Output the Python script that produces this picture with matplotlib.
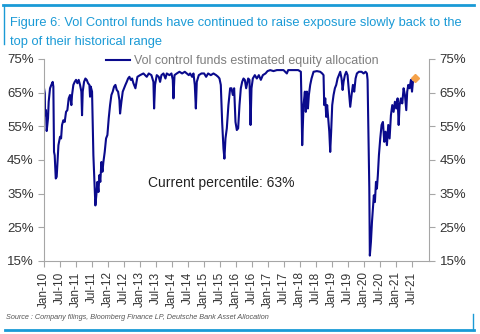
import matplotlib
matplotlib.use("Agg")
import matplotlib.pyplot as plt
from matplotlib.lines import Line2D
import numpy as np
import pandas as pd

plt.rcParams['font.family'] = ['Liberation Sans', 'DejaVu Sans']

# months after Jan-2010 and estimated equity allocation (%)
months = [0, 0.3, 0.4, 0.75, 1.0, 1.5, 1.75, 2.25, 2.75, 3.25, 3.5, 3.75, 4.0, 4.4, 4.75,
          5.1, 5.4, 6, 6.4, 6.75, 7.25, 7.75, 8.25, 8.75, 9.25, 9.75, 10.25, 10.5, 11, 11.5,
          12, 12.5, 13, 13.5, 14, 14.25, 14.5, 15, 15.5, 16, 16.5, 17, 17.25, 17.5, 18,
          18.25, 18.5, 18.9, 19.25, 19.6, 20, 20.4, 20.75, 21.1, 21.5, 21.9, 22.25, 22.75,
          23.25, 23.75, 24.25, 24.75, 25.25, 25.75, 26.25, 26.75, 27.25, 27.75, 28.25, 28.5,
          29, 29.5, 30, 30.5, 31, 31.5, 32, 32.5, 33, 33.5, 34.25, 35, 36, 37.25, 38.5,
          39.25, 40.25, 41, 41.25, 41.6, 42.25, 43, 43.5, 44, 44.75, 45.5, 46, 47, 47.75,
          48.25, 48.5, 48.9, 49.75, 50.75, 51.75, 52.75, 53.5, 54.25, 54.75, 55.5, 56, 56.5,
          56.9, 57.25, 58, 59, 60, 60.75, 61.5, 62.5, 63.5, 64.5, 65.25, 65.75, 66.25,
          66.75, 67.25, 67.6, 68, 68.5, 69.1, 69.75, 70.25, 70.75, 71.25, 71.75, 72.25,
          72.75, 73.25, 73.75, 74.25, 74.75, 75.25, 75.75, 76.5, 77, 77.4, 77.75, 78.25,
          79, 79.75, 80.5, 81.25, 82, 83, 83.75, 84.75, 86, 87.25, 88.5, 89.75, 91, 91.5,
          92.75, 94, 95.25, 96.25, 96.5, 96.75, 97.25, 97.75, 98.1, 98.5, 98.9, 99.25,
          99.75, 100.25, 101, 102.25, 103.5, 104.25, 104.75, 105, 105.4, 105.75, 106.1,
          106.5, 106.9, 107.25, 107.6, 108, 108.5, 109, 109.5, 110, 110.5, 111, 111.5,
          111.9, 112.25, 112.75, 113.25, 113.75, 114.25, 114.75, 115.25, 115.75, 116.25,
          116.75, 117.25, 118, 119, 119.75, 120.5, 121, 121.25, 121.6, 121.9, 122.1, 122.5,
          122.9, 123.25, 123.6, 124, 124.4, 124.75, 125.1, 125.5, 126, 126.5, 127, 127.5,
          128, 128.5, 129, 129.5, 130, 130.5, 131, 131.5, 132, 132.5, 132.9, 133.25,
          133.75, 134.25, 134.75, 135.25, 135.75, 136.1, 136.5, 137, 137.5, 137.9, 138.25,
          138.75]
allocation = [66.3, 64.8, 58.3, 59.8, 53.6, 57.4, 62.3, 66.3, 67.3, 68.2, 66.8, 47.4, 46.4,
              39.5, 40.0, 45.4, 49.4, 51.9, 51.4, 55.4, 56.8, 56.3, 59.3, 59.8, 63.3, 64.3,
              61.3, 64.3, 67.3, 68.2, 68.8, 67.8, 68.8, 67.3, 65.3, 58.3, 65.3, 68.2, 69.2,
              68.8, 67.8, 67.3, 63.8, 66.8, 65.3, 56.3, 46.4, 38.5, 31.5, 34.5, 38.5, 35.5,
              40.5, 38.5, 44.4, 41.5, 44.4, 47.4, 51.4, 52.4, 57.4, 61.3, 64.3, 65.3, 66.8,
              67.3, 65.8, 65.3, 62.8, 58.8, 62.3, 65.3, 66.3, 67.3, 68.2, 69.2, 69.7, 68.8,
              69.2, 67.8, 66.3, 69.7, 70.2, 70.7, 69.7, 70.7, 70.2, 68.2, 60.3, 67.3, 70.2,
              69.7, 68.2, 70.2, 70.7, 69.2, 70.7, 70.2, 70.7, 68.8, 63.3, 70.2, 70.7, 71.2,
              70.7, 71.2, 70.7, 70.2, 70.7, 69.7, 70.7, 67.3, 60.3, 68.2, 70.2, 70.7, 70.7,
              69.7, 70.7, 70.2, 70.7, 70.2, 69.7, 69.2, 67.3, 56.3, 48.4, 45.4, 51.4, 54.4,
              61.3, 66.3, 66.3, 64.3, 66.3, 56.3, 53.9, 54.4, 61.3, 66.3, 68.2, 69.2, 68.8,
              66.3, 69.2, 68.8, 55.4, 66.3, 69.2, 70.2, 69.2, 70.2, 68.8, 70.2, 70.7, 71.4,
              71.7, 71.4, 71.7, 71.7, 71.7, 70.7, 71.7, 71.7, 71.7, 71.7, 71.2, 61.3, 49.4,
              61.3, 65.3, 59.3, 65.3, 60.3, 64.3, 67.3, 69.2, 71.2, 71.4, 71.2, 70.7, 70.2,
              61.3, 63.3, 57.8, 61.3, 57.4, 53.4, 47.4, 53.4, 61.3, 64.3, 66.3, 67.3, 69.2,
              70.2, 71.2, 69.2, 65.8, 68.2, 70.2, 71.2, 70.2, 65.3, 60.8, 64.3, 67.3, 65.3,
              69.2, 70.7, 71.2, 71.2, 70.7, 71.2, 70.7, 68.8, 51.4, 36.5, 16.6, 20.6, 26.6,
              30.6, 34.5, 32.5, 38.5, 36.5, 40.5, 46.4, 51.4, 55.4, 56.3, 50.4, 53.4, 49.4,
              55.4, 51.4, 58.3, 61.3, 59.3, 62.3, 60.3, 63.3, 55.4, 61.3, 63.3, 61.8, 66.3,
              64.3, 59.8, 65.3, 67.3, 66.3, 68.8, 65.3, 68.2, 68.8]
latest_month = 139
latest_value = 69.5

start = pd.Timestamp('2010-01-01')
dates = start + pd.to_timedelta(np.array(months) * 30.44, unit='D')
latest_date = start + pd.to_timedelta(latest_month * 30.44, unit='D')

blue = '#1a9ad6'
grey = '#a6a6a6'
line_col = '#0a0a8c'

fig = plt.figure(figsize=(4.8, 3.34), dpi=100)
ax = fig.add_axes([0.0917, 0.2186, 0.8025, 0.6048])

ax.plot(dates, allocation, color=line_col, lw=1.5,
        label='Vol control funds estimated equity allocation')
ax.plot([latest_date], [latest_value], marker='D', ms=4, color='#f5a24a', ls='none')

ax.set_ylim(15, 75)
ax.set_xlim(pd.Timestamp('2010-01-01'), pd.Timestamp('2022-01-12'))
yt = np.arange(15, 76, 10)
ax.set_yticks(yt)
ax.set_yticklabels([f'{v}%' for v in yt])

ticks = pd.date_range('2010-01-01', '2021-07-01', freq='6MS')
ax.set_xticks(ticks)
ax.set_xticklabels([t.strftime('%b-%y') for t in ticks], rotation=90)

ax2 = ax.twinx()
ax2.set_ylim(15, 75)
ax2.set_yticks(yt)
ax2.set_yticklabels([f'{v}%' for v in yt])

for a in (ax, ax2):
    a.spines['top'].set_visible(False)
    for s in ('left', 'right', 'bottom'):
        a.spines[s].set_color(grey)
    a.tick_params(colors=grey, labelcolor='#333333', labelsize=9.5, length=4)
ax.spines['right'].set_visible(False)
ax2.spines['left'].set_visible(False)
ax2.spines['bottom'].set_visible(False)
ax.tick_params(axis='x', labelsize=8.5)

leg = ax.legend(loc='center', bbox_to_anchor=(0.515, 0.99), frameon=False,
                fontsize=9, handlelength=1.9, handletextpad=0.3, labelcolor='#7f7f7f')

ax.text(0.27, 0.385, 'Current percentile: 63%', transform=ax.transAxes,
        fontsize=10, color='#222222', va='center')

# title block
fig.text(0.021, 0.932, 'Figure 6: Vol Control funds have continued to raise exposure slowly back to the',
         color=blue, fontsize=9.3, va='center')
fig.text(0.021, 0.875, 'top of their historical range', color=blue, fontsize=9.3, va='center')
fig.add_artist(Line2D([0.006, 0.988], [0.985, 0.985], color=blue, lw=2))
fig.add_artist(Line2D([0.009, 0.009], [0.985, 0.868], color=blue, lw=1))

fig.text(0.012, 0.048, 'Source : Company filings, Bloomberg Finance LP, Deutsche Bank Asset Allocation',
         fontsize=5.2, style='italic', color='#555555', va='center')
fig.add_artist(Line2D([0.01, 0.988], [0.012, 0.012], color=blue, lw=2))
fig.add_artist(Line2D([0.986, 0.986], [0.012, 0.06], color=blue, lw=1))

fig.savefig('out.png', dpi=100)
